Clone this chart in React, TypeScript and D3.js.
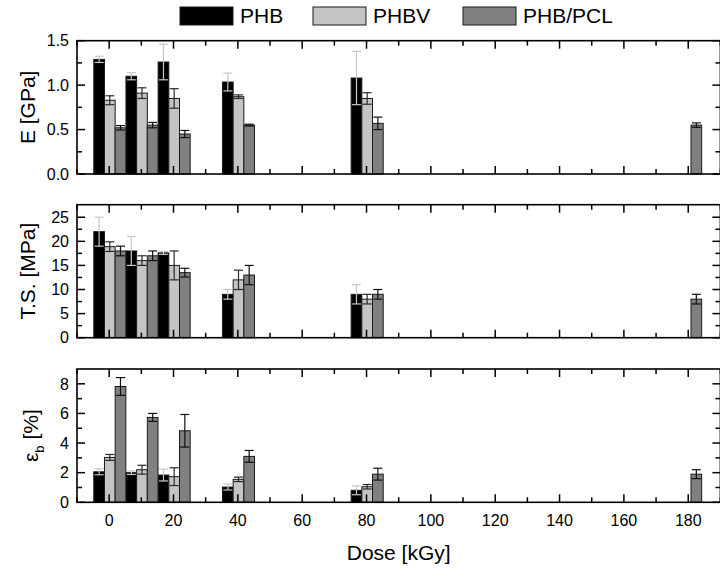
import React from "react";
import * as d3 from "d3";

// ---------- data ----------
const doses = [0, 10, 20, 40, 80, 179];
const seriesNames = ["PHB", "PHBV", "PHB/PCL"];

const E_PHB = [1.29, 1.1, 1.26, 1.035, 1.08, null];
const E_PHB_err = [0.035, 0.04, 0.2, 0.1, 0.3, null];
const E_PHBV = [0.83, 0.91, 0.85, 0.87, 0.85, null];
const E_PHBV_err = [0.05, 0.06, 0.11, 0.02, 0.065, null];
const E_PCL = [0.52, 0.55, 0.45, 0.55, 0.57, 0.55];
const E_PCL_err = [0.025, 0.03, 0.04, 0.01, 0.07, 0.025];

const TS_PHB = [22, 18, 17.6, 9, 9, null];
const TS_PHB_err = [3, 3, 0.3, 1, 2, null];
const TS_PHBV = [18.9, 16, 15, 12, 8, null];
const TS_PHBV_err = [1, 1, 3, 2, 1, null];
const TS_PCL = [18, 17, 13.5, 13, 9, 8];
const TS_PCL_err = [1, 1, 0.9, 2, 1, 1];

const EB_PHB = [2.06, 2.0, 1.84, 1.03, 0.81, null];
const EB_PHB_err = [0.2, 0.12, 0.4, 0.2, 0.3, null];
const EB_PHBV = [3.03, 2.2, 1.73, 1.55, 1.05, null];
const EB_PHBV_err = [0.2, 0.3, 0.6, 0.15, 0.15, null];
const EB_PCL = [7.82, 5.73, 4.83, 3.1, 1.9, 1.9];
const EB_PCL_err = [0.6, 0.27, 1.1, 0.4, 0.4, 0.3];

const xTickLabels = [0, 20, 40, 60, 80, 100, 120, 140, 160, 180];

// ---------- styling ----------
const FILLS = ["#000000", "#c4c4c4", "#808080"];
const ERR_COLORS = ["#c8c8c8", "#2a2a2a", "#111111"];
const FONT = "Liberation Sans, Arial, sans-serif";

const x = d3.scaleLinear().domain([-10, 190]).range([77, 720.4]);
const BAR_W = 3.32; // in dose units
const GROUP_SHIFT = 0.2;

type Panel = {
  key: string;
  domain: [number, number];
  range: [number, number];
  major: number[];
  minor: number[];
  fmt: (v: number) => string;
  values: (number | null)[][];
  errs: (number | null)[][];
};

const panels: Panel[] = [
  {
    key: "E",
    domain: [0, 1.5],
    range: [174, 40.7],
    major: [0, 0.5, 1.0, 1.5],
    minor: [0.25, 0.75, 1.25],
    fmt: d3.format(".1f"),
    values: [E_PHB, E_PHBV, E_PCL],
    errs: [E_PHB_err, E_PHBV_err, E_PCL_err],
  },
  {
    key: "TS",
    domain: [0, 27.6],
    range: [337.7, 204.7],
    major: [0, 5, 10, 15, 20, 25],
    minor: [2.5, 7.5, 12.5, 17.5, 22.5],
    fmt: d3.format("d"),
    values: [TS_PHB, TS_PHBV, TS_PCL],
    errs: [TS_PHB_err, TS_PHBV_err, TS_PCL_err],
  },
  {
    key: "EB",
    domain: [0, 9],
    range: [502.3, 369],
    major: [0, 2, 4, 6, 8],
    minor: [1, 3, 5, 7],
    fmt: d3.format("d"),
    values: [EB_PHB, EB_PHBV, EB_PCL],
    errs: [EB_PHB_err, EB_PHBV_err, EB_PCL_err],
  },
];

const xMajor = d3.range(0, 181, 20);
const xMinor = d3.range(-10, 191, 20);

function PanelView({ p, showXLabels }: { p: Panel; showXLabels: boolean }) {
  const y = d3.scaleLinear().domain(p.domain).range(p.range);
  const [x0, x1] = x.range();
  const yb = p.range[0];
  const yt = p.range[1];
  const bars: React.ReactNode[] = [];
  const errs: React.ReactNode[] = [];
  p.values.forEach((vals, si) => {
    vals.forEach((v, di) => {
      if (v == null) return;
      const c = doses[di] + GROUP_SHIFT + (si - 1) * BAR_W;
      const bx0 = x(c - BAR_W / 2);
      const bx1 = x(c + BAR_W / 2);
      bars.push(
        <rect
          key={`b${si}-${di}`}
          x={bx0}
          y={y(v)}
          width={bx1 - bx0}
          height={yb - y(v)}
          fill={FILLS[si]}
          stroke="#1a1a1a"
          strokeWidth={1}
        />
      );
      const e = p.errs[si][di];
      if (e != null) {
        const cx = x(c);
        const ya = y(v + e);
        const yz = y(v - e);
        const cap = 4.5;
        errs.push(
          <g key={`e${si}-${di}`} stroke={ERR_COLORS[si]} strokeWidth={1.2}>
            <line x1={cx} x2={cx} y1={ya} y2={yz} />
            <line x1={cx - cap} x2={cx + cap} y1={ya} y2={ya} />
            <line x1={cx - cap} x2={cx + cap} y1={yz} y2={yz} />
          </g>
        );
      }
    });
  });
  return (
    <g>
      {bars}
      {errs}
      {/* x ticks top & bottom */}
      {xMajor.map((t) => (
        <g key={`xm${t}`} stroke="#000" strokeWidth={1.5}>
          <line x1={x(t)} x2={x(t)} y1={yb} y2={yb - 8} />
          <line x1={x(t)} x2={x(t)} y1={yt} y2={yt + 8} />
        </g>
      ))}
      {xMinor.map((t) => (
        <g key={`xn${t}`} stroke="#000" strokeWidth={1.5}>
          <line x1={x(t)} x2={x(t)} y1={yb} y2={yb - 5} />
          <line x1={x(t)} x2={x(t)} y1={yt} y2={yt + 5} />
        </g>
      ))}
      {p.major.map((t) => (
        <g key={`ym${t}`} stroke="#000" strokeWidth={1.5}>
          <line x1={x0} x2={x0 + 8} y1={y(t)} y2={y(t)} />
          <line x1={x1} x2={x1 - 8} y1={y(t)} y2={y(t)} />
        </g>
      ))}
      {p.minor.map((t) => (
        <g key={`yn${t}`} stroke="#000" strokeWidth={1.5}>
          <line x1={x0} x2={x0 + 5} y1={y(t)} y2={y(t)} />
          <line x1={x1} x2={x1 - 5} y1={y(t)} y2={y(t)} />
        </g>
      ))}
      <rect
        x={x0}
        y={yt}
        width={x1 - x0}
        height={yb - yt}
        fill="none"
        stroke="#000"
        strokeWidth={1.6}
      />
      {p.major.map((t) => (
        <text
          key={`yl${t}`}
          x={69}
          y={y(t)}
          dy="0.36em"
          textAnchor="end"
          fontSize={16}
          fontFamily={FONT}
          fill="#000"
        >
          {p.fmt(t)}
        </text>
      ))}
      {showXLabels &&
        xTickLabels.map((t) => (
          <text
            key={`xl${t}`}
            x={x(t)}
            y={526}
            textAnchor="middle"
            fontSize={16}
            fontFamily={FONT}
            fill="#000"
          >
            {t}
          </text>
        ))}
    </g>
  );
}

export default function App() {
  const legendX = [180, 313, 463];
  return (
    <svg
      width={720}
      height={572}
      style={{ position: "absolute", left: 0, top: 0, background: "#fff" }}
    >
      <rect x={0} y={0} width={720} height={572} fill="#fff" />
      {seriesNames.map((n, i) => (
        <g key={n}>
          <rect
            x={legendX[i]}
            y={7}
            width={53}
            height={18}
            fill={FILLS[i]}
            stroke="#1a1a1a"
            strokeWidth={1}
          />
          <text
            x={legendX[i] + 60}
            y={23.3}
            fontSize={21}
            fontFamily={FONT}
            fill="#000"
          >
            {n}
          </text>
        </g>
      ))}
      {panels.map((p, i) => (
        <PanelView key={p.key} p={p} showXLabels={i === 2} />
      ))}
      <text
        transform={`translate(35,${(40.7 + 174) / 2}) rotate(-90)`}
        textAnchor="middle"
        fontSize={21}
        fontFamily={FONT}
      >
        E [GPa]
      </text>
      <text
        transform={`translate(35,${(204.7 + 337.7) / 2}) rotate(-90)`}
        textAnchor="middle"
        fontSize={21}
        fontFamily={FONT}
      >
        T.S. [MPa]
      </text>
      <text
        transform={`translate(38,${(369 + 502.3) / 2}) rotate(-90)`}
        textAnchor="middle"
        fontSize={21}
        fontFamily={FONT}
      >
        ε<tspan fontSize={13} dy={6}>b</tspan>
        <tspan dy={-6}> [%]</tspan>
      </text>
      <text
        x={(77 + 720.4) / 2}
        y={560}
        textAnchor="middle"
        fontSize={21}
        fontFamily={FONT}
      >
        Dose [kGy]
      </text>
    </svg>
  );
}
